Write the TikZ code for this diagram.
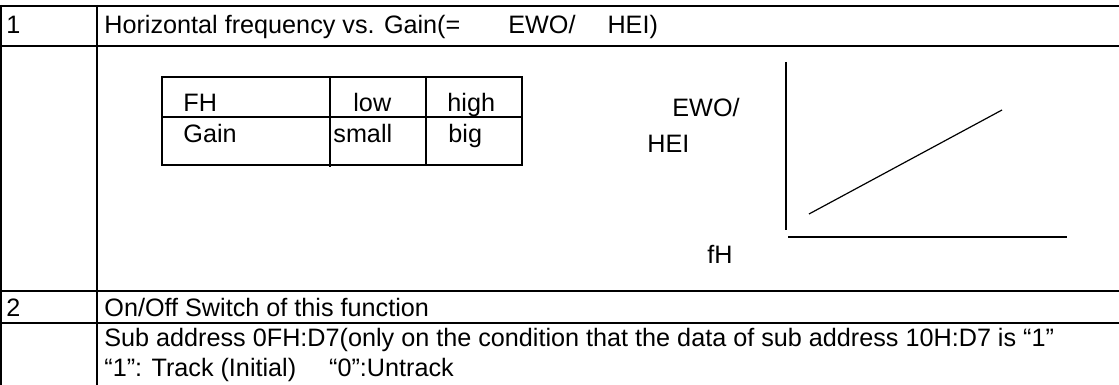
\documentclass[tikz,border=0pt]{standalone}
\usepackage{fontspec}
\setmainfont{Liberation Sans}
\usetikzlibrary{positioning}
\tikzset{
  celltext/.style={
    anchor=base west, inner sep=0pt, font=\fontsize{12.6}{15}\selectfont
  },
  gridrule/.style={line width=1pt},
  innerrule/.style={line width=0.65pt},
  plotline/.style={line width=0.6pt}
}

\begin{document}
\begin{tikzpicture}[x=0.5pt, y=-0.5pt]
  \useasboundingbox (0,0) rectangle (1119,385);

  % Outer table
  \draw[gridrule] (0,6) -- (1119,6);
  \draw[gridrule] (0,46) -- (1119,46);
  \draw[gridrule] (0,291) -- (1119,291);
  \draw[gridrule] (0,323) -- (1119,323);
  \draw[gridrule] (1,5) -- (1,385);
  \draw[gridrule] (97,5) -- (97,385);

  % Row 1
  \node[celltext] (num1) at (6,34) {1};
  \node[celltext] (title1) at (104,34) {Horizontal frequency vs. Gain(=\hspace{24pt}EWO/\hspace{16pt}HEI)};

  % Inner table
  \draw[innerrule] (162,77) rectangle (522,165);
  \draw[innerrule] (162,117) -- (522,117);
  \draw[innerrule] (330,77) -- (330,167);
  \draw[innerrule] (426,77) -- (426,165);
  \node[celltext] (fh)    at (183,112) {FH};
  \node[celltext] (low)   at (353,112) {low};
  \node[celltext] (high)  at (447,112) {high};
  \node[celltext] (gain)  at (183,142) {Gain};
  \node[celltext] (small) at (333,142) {small};
  \node[celltext] (big)   at (448,142) {big};

  % Graph
  \draw[plotline] (786,62) -- (786,230);
  \draw[plotline] (788,237) -- (1067,237);
  \draw[plotline] (809,214) -- (1002,110);
  \node[celltext] (ewo) at (672,117) {EWO/};
  \node[celltext] (hei) at (647,153) {HEI};
  \node[celltext] (fhaxis) at (707,263) {fH};

  % Row 2
  \node[celltext] (num2) at (6,316) {2};
  \node[celltext] (title2) at (104,316) {On/Off Switch of this function};

  % Row 3
  \node[celltext] (subaddr) at (104,346) {Sub address 0FH:D7(only on the condition that the data of sub address 10H:D7 is “1”};
  \node[celltext] (track) at (104,376) {“1”: Track (Initial)\hspace{16.5pt}“0”:Untrack};

\end{tikzpicture}
\end{document}
